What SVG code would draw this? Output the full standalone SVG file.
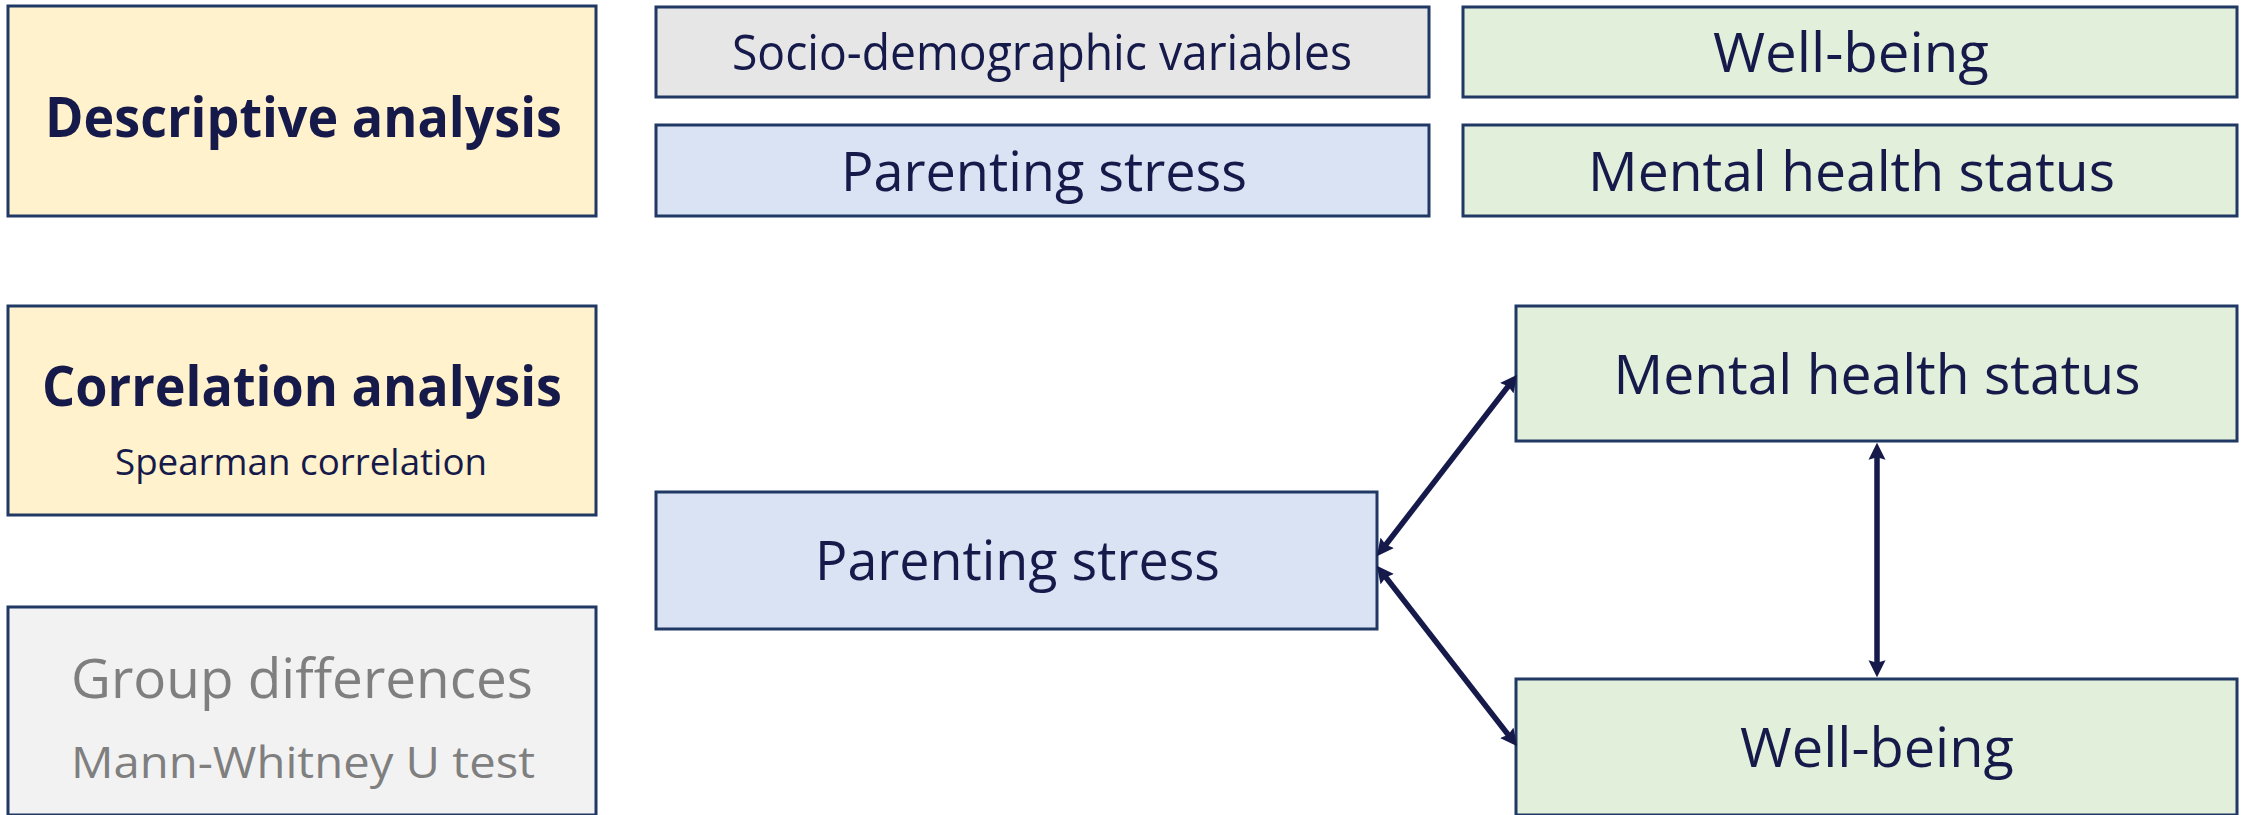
<svg xmlns="http://www.w3.org/2000/svg" width="2241" height="815" viewBox="0 0 2241 815">
<style>
.box{stroke:#203864;stroke-width:3}
.t{font-family:"Open Sans","Noto Sans",sans-serif;fill:#161a4a;text-anchor:middle}
.b{font-weight:bold}
.g{fill:#7f7f7f}
.c{stroke:#161a4a;stroke-width:5.5;fill:none;marker-start:url(#ah);marker-end:url(#ah)}
</style>
<defs>
<marker id="ah" viewBox="0 0 10 10" refX="4" refY="5" markerWidth="3.1" markerHeight="3.1" orient="auto-start-reverse" markerUnits="strokeWidth">
<path d="M0,0 L10,5 L0,10 L1.5,5 Z" fill="#161a4a"/>
</marker>
</defs>
<rect width="2241" height="815" fill="#ffffff"/>
<g id="descriptive">
<rect class="box" x="8" y="6" width="588" height="210" fill="#fff2cc"/>
<text class="t b" x="303.5" y="137" font-size="55" textLength="517" lengthAdjust="spacingAndGlyphs">Descriptive analysis</text>
</g>
<g id="socio">
<rect class="box" x="656" y="7" width="773" height="90" fill="#e6e6e6"/>
<text class="t" x="1042" y="70" font-size="50" textLength="620" lengthAdjust="spacingAndGlyphs">Socio-demographic variables</text>
</g>
<g id="parenting-top">
<rect class="box" x="656" y="125" width="773" height="91" fill="#dae3f3"/>
<text class="t" x="1044" y="191" font-size="55" textLength="406" lengthAdjust="spacingAndGlyphs">Parenting stress</text>
</g>
<g id="wellbeing-top">
<rect class="box" x="1463" y="7" width="774" height="90" fill="#e2efda"/>
<text class="t" x="1851" y="72" font-size="55" textLength="276" lengthAdjust="spacingAndGlyphs">Well-being</text>
</g>
<g id="mental-top">
<rect class="box" x="1463" y="125" width="774" height="91" fill="#e2efda"/>
<text class="t" x="1851.5" y="191" font-size="55" textLength="527" lengthAdjust="spacingAndGlyphs">Mental health status</text>
</g>
<g id="correlation">
<rect class="box" x="8" y="306" width="588" height="209" fill="#fff2cc"/>
<text class="t b" x="302" y="405.5" font-size="55" textLength="520" lengthAdjust="spacingAndGlyphs">Correlation analysis</text>
<text class="t" x="301" y="475" font-size="37" textLength="372" lengthAdjust="spacingAndGlyphs">Spearman correlation</text>
</g>
<g id="group">
<rect class="box" x="8" y="607" width="588" height="208" fill="#f2f2f2"/>
<text class="t g" x="302" y="698" font-size="55" textLength="462" lengthAdjust="spacingAndGlyphs">Group differences</text>
<text class="t g" x="303" y="778" font-size="44" textLength="464" lengthAdjust="spacingAndGlyphs">Mann-Whitney U test</text>
</g>
<g id="parenting">
<rect class="box" x="656" y="492" width="721" height="137" fill="#dae3f3"/>
<text class="t" x="1017.5" y="580" font-size="55" textLength="405" lengthAdjust="spacingAndGlyphs">Parenting stress</text>
</g>
<g id="mental">
<rect class="box" x="1516" y="306" width="721" height="135" fill="#e2efda"/>
<text class="t" x="1877" y="394" font-size="55" textLength="527" lengthAdjust="spacingAndGlyphs">Mental health status</text>
</g>
<g id="wellbeing">
<rect class="box" x="1516" y="679" width="721" height="136" fill="#e2efda"/>
<text class="t" x="1877" y="767" font-size="55" textLength="274" lengthAdjust="spacingAndGlyphs">Well-being</text>
</g>
<g id="connectors">
<line class="c" x1="1383.1" y1="548.2" x2="1510.9" y2="382.8"/>
<line class="c" x1="1383.1" y1="573.8" x2="1510.9" y2="738.2"/>
<line class="c" x1="1877" y1="452.9" x2="1877" y2="667.1"/>
</g>
</svg>
